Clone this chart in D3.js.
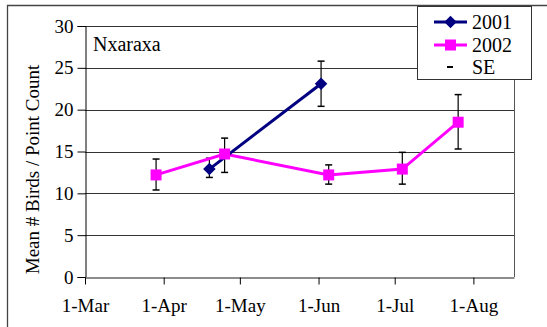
<!DOCTYPE html>
<html><head><meta charset="utf-8">
<script src="https://cdn.jsdelivr.net/npm/d3@7"></script>
</head><body style="margin:0;background:#fff"><svg id="c" width="547" height="327" font-family="Liberation Serif"></svg>
<script>
const series2001Dates = ["2002-04-19","2002-06-02"];
const series2001Values = [12.9, 23.1];
const series2001SEup = [14.2, 25.8];
const series2001SElo = [11.9, 20.4];
const series2002Dates = ["2002-03-29","2002-04-25","2002-06-05","2002-07-04","2002-07-26"];
const series2002Values = [12.2, 14.7, 12.2, 12.9, 18.5];
const series2002SEup = [14.1, 16.6, 13.4, 14.9, 21.8];
const series2002SElo = [10.4, 12.5, 11.1, 11.1, 15.3];
const xTickDates = ["2002-03-01","2002-04-01","2002-05-01","2002-06-01","2002-07-01","2002-08-01"];
const xTickLabels = ["1-Mar","1-Apr","1-May","1-Jun","1-Jul","1-Aug"];
const yTicks = [0,5,10,15,20,25,30];
const legendLabels = ["2001","2002","SE"];

const FONT = "Liberation Serif";
const svg = d3.select("#c");
const pd = d3.utcParse("%Y-%m-%d");
const L=85, R=514, T=26, B=277;
const x = d3.scaleUtc().domain([pd("2002-03-01"), pd("2002-08-17")]).range([L,R]);
const y = d3.scaleLinear().domain([0,30]).range([B,T]);

svg.append("path").attr("d","M7.5,327 V5.5 H547").attr("fill","none").attr("stroke","#444").attr("stroke-width",1.3);

svg.append("g").selectAll("line").data(yTicks.filter(d=>d>0)).join("line")
  .attr("x1",L).attr("x2",R).attr("y1",d=>Math.round(y(d))+0.5).attr("y2",d=>Math.round(y(d))+0.5)
  .attr("stroke","#333").attr("stroke-width",1);
svg.append("line").attr("x1",R+0.5).attr("x2",R+0.5).attr("y1",T).attr("y2",B).attr("stroke","#555");

const ya = svg.append("g").attr("transform",`translate(${L+0.5},0)`)
  .call(d3.axisLeft(y).tickValues(yTicks).tickSize(8).tickPadding(4));
ya.attr("font-family",FONT).attr("font-size",19);
ya.select(".domain").attr("stroke","#000");
ya.selectAll(".tick line").attr("stroke","#000");
ya.selectAll("text").attr("fill","#000");

const xa = svg.append("g").attr("transform",`translate(0,${B+0.5})`)
  .call(d3.axisBottom(x).tickValues(xTickDates.map(pd)).tickFormat((d,i)=>xTickLabels[i]).tickSize(7).tickPadding(14).tickSizeOuter(0));
xa.attr("font-family",FONT).attr("font-size",19);
xa.select(".domain").attr("stroke","#666").attr("stroke-width",1.6);
xa.selectAll(".tick line").attr("stroke","#000");
xa.selectAll("text").attr("fill","#000");

svg.append("text").attr("transform",`translate(39,${(T+B)/2+18}) rotate(-90)`).attr("text-anchor","middle")
  .attr("font-size",19).attr("font-family",FONT).text("Mean # Birds / Point Count");
svg.append("text").attr("x",93).attr("y",51).attr("font-size",20).attr("font-family",FONT).text("Nxaraxa");

function errBars(dates, up, lo){
  const g = svg.append("g");
  dates.forEach((d,i)=>{
    const cx = x(pd(d));
    g.append("line").attr("x1",cx).attr("x2",cx).attr("y1",y(up[i])).attr("y2",y(lo[i])).attr("stroke","#000").attr("stroke-width",1.2);
    [up[i],lo[i]].forEach(v=>g.append("line").attr("x1",cx-3.5).attr("x2",cx+3.5).attr("y1",y(v)).attr("y2",y(v)).attr("stroke","#000").attr("stroke-width",1.5));
  });
}
errBars(series2001Dates, series2001SEup, series2001SElo);
errBars(series2002Dates, series2002SEup, series2002SElo);

const line = d3.line().x(d=>x(pd(d[0]))).y(d=>y(d[1]));
svg.append("path").datum(series2002Dates.map((d,i)=>[d,series2002Values[i]])).attr("d",line)
  .attr("fill","none").attr("stroke","#FF00FF").attr("stroke-width",3);
svg.append("path").datum(series2001Dates.map((d,i)=>[d,series2001Values[i]])).attr("d",line)
  .attr("fill","none").attr("stroke","#000080").attr("stroke-width",3);

const sq = d3.symbol().type(d3.symbolSquare).size(121);
const dm = d3.symbol().type(d3.symbolDiamond2).size(100);
svg.append("g").selectAll("path").data(series2002Dates.map((d,i)=>[d,series2002Values[i]])).join("path")
  .attr("d",sq).attr("transform",d=>`translate(${x(pd(d[0]))},${y(d[1])})`).attr("fill","#FF00FF");
svg.append("g").selectAll("path").data(series2001Dates.map((d,i)=>[d,series2001Values[i]])).join("path")
  .attr("d",dm).attr("transform",d=>`translate(${x(pd(d[0]))},${y(d[1])})`).attr("fill","#000080");

const lg = svg.append("g");
lg.append("rect").attr("x",417.5).attr("y",6.5).attr("width",114).attr("height",73).attr("fill","#fff").attr("stroke","#333").attr("stroke-width",1);
const ly = [22,45,67];
lg.append("line").attr("x1",434).attr("x2",467).attr("y1",ly[0]).attr("y2",ly[0]).attr("stroke","#000080").attr("stroke-width",3);
lg.append("path").attr("d",dm).attr("transform",`translate(450.5,${ly[0]})`).attr("fill","#000080");
lg.append("line").attr("x1",434).attr("x2",467).attr("y1",ly[1]).attr("y2",ly[1]).attr("stroke","#FF00FF").attr("stroke-width",3);
lg.append("path").attr("d",sq).attr("transform",`translate(450.5,${ly[1]})`).attr("fill","#FF00FF");
lg.append("line").attr("x1",447).attr("x2",453).attr("y1",ly[2]).attr("y2",ly[2]).attr("stroke","#000").attr("stroke-width",2);
lg.selectAll("text").data(legendLabels).join("text").attr("x",472).attr("y",(d,i)=>ly[i]+7).attr("font-size",20).attr("font-family",FONT).text(d=>d);
</script></body></html>
